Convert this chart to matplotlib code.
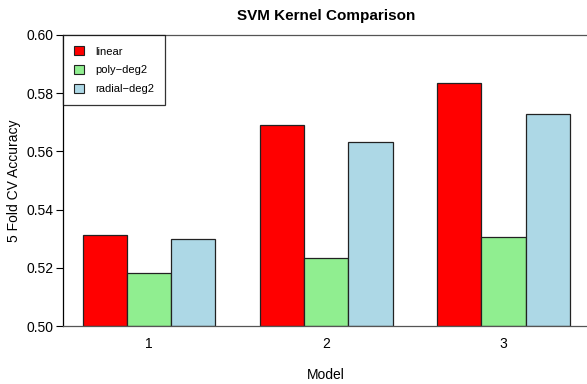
import matplotlib
matplotlib.use("Agg")
import matplotlib.pyplot as plt
import numpy as np

plt.rcParams['font.family'] = ['Liberation Sans', 'DejaVu Sans']

models = ["1", "2", "3"]
kernels = ["linear", "poly\u2212deg2", "radial\u2212deg2"]
linear = [0.5313, 0.5690, 0.5834]
poly_deg2 = [0.5181, 0.5235, 0.5305]
radial_deg2 = [0.5298, 0.5631, 0.5727]
colors = ["#FF0000", "#90EE90", "#ADD8E6"]

series = [linear, poly_deg2, radial_deg2]

fig = plt.figure(figsize=(5.87, 3.84), dpi=100)
ax = fig.add_axes([63 / 587, 1 - 326 / 384, (589.5 - 63) / 587, (326 - 35) / 384])

# grouped bars: one unit gap before each group of three unit-wide bars
n_series = len(series)
for g in range(len(models)):
    start = 1 + g * (n_series + 1)
    for s in range(n_series):
        ax.bar(start + s, series[s][g] - 0.5, bottom=0.5, width=1.0, align="edge",
               color=colors[s], edgecolor="#222222", linewidth=0.9)

centers = [1 + g * (n_series + 1) + n_series / 2 for g in range(len(models))]
ax.set_xlim(0.56, 12.44)
ax.set_ylim(0.50, 0.60)
ax.set_xticks(centers)
ax.set_xticklabels(models, fontsize=10)
ax.tick_params(axis="x", length=0, pad=8)
ax.set_yticks(np.arange(0.50, 0.601, 0.02))
ax.set_yticklabels([f"{v:.2f}" for v in np.arange(0.50, 0.601, 0.02)], fontsize=10)
ax.tick_params(axis="y", length=5, width=0.8, pad=2)

for sp in ax.spines.values():
    sp.set_color("#555555")
    sp.set_linewidth(0.9)
ax.spines["left"].set_color("#000000")

ax.set_xlabel("Model", fontsize=10, labelpad=12)
ax.set_ylabel("5 Fold CV Accuracy", fontsize=10, labelpad=4)
ax.set_title("SVM Kernel Comparison", fontsize=11, fontweight="bold", pad=11)

handles = [plt.Rectangle((0, 0), 1, 1, facecolor=c, edgecolor="#222222", linewidth=0.8)
           for c in colors]
leg = ax.legend(handles, kernels, loc="upper left", bbox_to_anchor=(0.0, 1.0),
                fontsize=8, frameon=True, fancybox=False, borderaxespad=0,
                handlelength=0.9, handleheight=0.9, handletextpad=1.0,
                borderpad=1.0, labelspacing=0.75)
leg.get_frame().set_edgecolor("#000000")
leg.get_frame().set_linewidth(0.9)

fig.savefig("out.png", dpi=100)
